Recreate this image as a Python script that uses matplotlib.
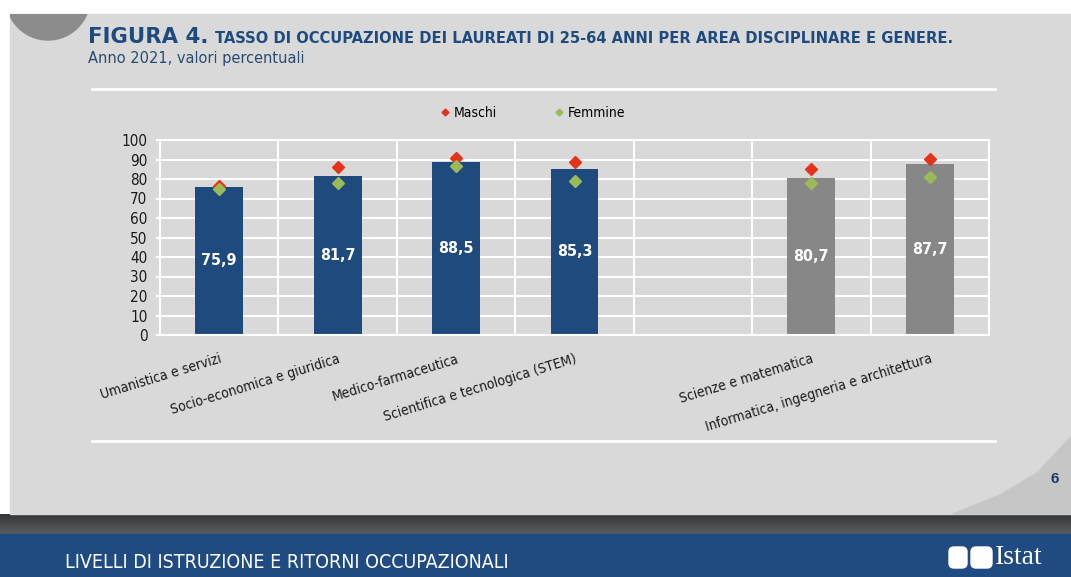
import matplotlib
matplotlib.use("Agg")
import matplotlib.pyplot as plt
import numpy as np
from matplotlib import font_manager
from matplotlib.font_manager import FontProperties
from matplotlib.patches import Rectangle, Polygon, Circle, FancyBboxPatch
from matplotlib.lines import Line2D


# look for a narrow / condensed sans face, the slide uses Arial Narrow
def narrow_font(bold):
    for f in font_manager.fontManager.ttflist:
        nm = f.name.lower()
        cond = ("narrow" in nm or "condensed" in nm or str(f.stretch) in ("condensed", "semi-condensed", "500", "300"))
        if cond and "mono" not in nm and "serif" not in nm and f.style == "normal":
            if (f.weight in ("bold", 700) or (isinstance(f.weight, int) and f.weight >= 600)) == bold:
                return FontProperties(fname=f.fname)
    return FontProperties(family="Liberation Sans", weight="bold" if bold else "normal")


NARROW = narrow_font(False)
NARROW_B = narrow_font(True)

categories = ["Umanistica e servizi", "Socio-economica e giuridica", "Medico-farmaceutica",
              "Scientifica e tecnologica (STEM)", "", "Scienze e matematica",
              "Informatica, ingegneria e architettura"]
totale = [75.9, 81.7, 88.5, 85.3, np.nan, 80.7, 87.7]
maschi = [76.3, 85.9, 90.7, 88.8, np.nan, 85.2, 90.4]
femmine = [75.1, 78.0, 86.6, 78.9, np.nan, 77.7, 80.9]
stem_split = 4  # categories after the gap are the STEM sub-areas

BLUE = "#1f4a7e"
GREY_BAR = "#878787"
RED = "#e5321b"
GREEN = "#9bbb59"
TITLE = "#1f4a7e"

W, H = 1071, 577
fig = plt.figure(figsize=(W / 100, H / 100), dpi=100, facecolor="white")
renderer = fig.canvas.get_renderer()


def fit(txt, width_px, start):
    # shrink font until the text is as wide as in the slide
    size = start
    txt.set_fontsize(size)
    w = txt.get_window_extent(renderer).width
    txt.set_fontsize(size * width_px / w)


# page background, drawn in pixel coordinates
bg = fig.add_axes([0, 0, 1, 1], zorder=0)
bg.set_xlim(0, W)
bg.set_ylim(H, 0)
bg.axis("off")
page = Rectangle((10, 14), W - 10, 500, color="#d9d9d9")
bg.add_patch(page)
circ = Circle((48, -2), 42, color="#8c8c8c")
bg.add_patch(circ)
circ.set_clip_path(page)
bg.add_patch(Polygon([(953, 514), (1000, 495), (1037, 473), (1071, 437), (1071, 514)],
                     color="#c6c6c6"))
bg.plot([92, 995], [89, 89], color="white", lw=2)
bg.plot([92, 995], [441, 441], color="white", lw=2)
grad = np.linspace(0, 1, 50).reshape(-1, 1)
bg.imshow(grad, cmap=matplotlib.colors.LinearSegmentedColormap.from_list("b", ["#353535", "#5a5e62"]),
          extent=(0, W, 534, 514), aspect="auto")
bg.add_patch(Rectangle((0, 534), W, H - 534, color="#1f4b82"))
bg.set_xlim(0, W)
bg.set_ylim(H, 0)

t1 = bg.text(88, 43, "FIGURA 4.", family="DejaVu Sans", fontweight="bold", fontsize=15,
             color=TITLE, va="baseline")
fit(t1, 120, 15)
t2 = bg.text(215, 43, "TASSO DI OCCUPAZIONE DEI LAUREATI DI 25-64 ANNI PER AREA DISCIPLINARE E GENERE.",
             fontproperties=NARROW_B, color=TITLE, va="baseline")
fit(t2, 737, 15)
t3 = bg.text(88, 63, "Anno 2021, valori percentuali", fontproperties=NARROW,
             color="#2a4a70", va="baseline")
fit(t3, 217, 11)
bg.text(1055, 479, "6", family="Liberation Sans", fontweight="bold", fontsize=11,
        color="#1f3864", ha="center", va="center")
t4 = bg.text(65, 562, "LIVELLI DI ISTRUZIONE E RITORNI OCCUPAZIONALI", fontproperties=NARROW,
             color="white", va="center")
fit(t4, 445, 14)
bg.add_patch(FancyBboxPatch((949, 547), 18, 21, boxstyle="round,pad=0,rounding_size=5",
                            color="white"))
bg.add_patch(FancyBboxPatch((971, 547), 21, 21, boxstyle="round,pad=0,rounding_size=5",
                            color="white"))
bg.text(995, 558, "Istat", family="Liberation Serif", fontsize=20, color="white", va="center")

# chart
ax = fig.add_axes([160 / W, 1 - 335 / H, (989 - 160) / W, (335 - 140) / H], zorder=1)
ax.set_facecolor("none")
x = np.arange(len(categories))
tot = np.array(totale)
ok = ~np.isnan(tot)
colors = [BLUE if i < stem_split else GREY_BAR for i in x]
ax.bar(x[ok], tot[ok], width=0.405, color=np.array(colors)[ok], zorder=2)
for xi, v in zip(x[ok], tot[ok]):
    lbl = ax.text(xi, v / 2, f"{v:.1f}".replace(".", ","), ha="center", va="center",
                  color="white", fontproperties=NARROW_B, zorder=4)
    lbl.set_fontsize(11.5)
ax.plot(x, maschi, "D", color=RED, ms=6.5, ls="none", zorder=3)
ax.plot(x, femmine, "D", color=GREEN, ms=6.5, ls="none", zorder=3)

ax.set_xlim(-0.5, len(categories) - 0.5)
ax.set_ylim(0, 100)
ax.set_yticks(np.arange(0, 101, 10))
ax.set_xticks(x)
ax.set_xticks(np.arange(-0.5, len(categories), 1), minor=True)
ax.set_xticklabels(categories, rotation=17, ha="right", rotation_mode="anchor",
                   color="#1a1a1a")
for lab in ax.get_xticklabels():
    lab.set_fontproperties(NARROW)
    lab.set_fontsize(10)
ax.tick_params(axis="x", which="both", length=0, pad=12)
ax.tick_params(axis="y", length=3, color="white", width=1.5, pad=6, labelcolor="#1a1a1a")
for lab in ax.get_yticklabels():
    lab.set_fontproperties(NARROW)
    lab.set_fontsize(11)
ax.grid(which="minor", axis="x", color="white", lw=1.5, zorder=0)
ax.grid(which="major", axis="y", color="white", lw=1.5, zorder=0)
ax.set_axisbelow(True)
for s in ax.spines.values():
    s.set_color("white")
    s.set_linewidth(1.5)

handles = [Line2D([], [], marker="D", color=RED, ls="none", ms=3.5),
           Line2D([], [], marker="D", color=GREEN, ls="none", ms=3.5)]
leg_prop = NARROW.copy()
leg_prop.set_size(10)
fig.legend(handles, ["Maschi", "Femmine"], loc="center", bbox_to_anchor=(533 / W, 1 - 113 / H),
           ncol=2, frameon=False, handlelength=0.6, handletextpad=0.3, columnspacing=4.2,
           prop=leg_prop)

fig.savefig("out.png", dpi=100, facecolor=fig.get_facecolor())
